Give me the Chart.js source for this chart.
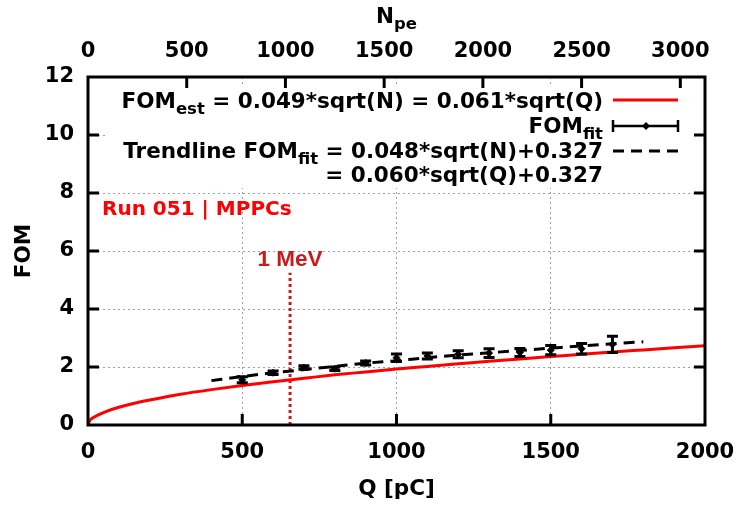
<!DOCTYPE html>
<html>
<head>
<meta charset="utf-8">
<script src="https://cdn.jsdelivr.net/npm/chart.js@4.4.0/dist/chart.umd.min.js"></script>
<style>
  html, body { margin: 0; padding: 0; background: #fff; }
  canvas { display: block; }
</style>
</head>
<body>
<canvas id="fom" width="747" height="508"></canvas>
<script>
const Q_TICKS = [0, 500, 1000, 1500, 2000];
const NPE_TICKS = [0, 500, 1000, 1500, 2000, 2500, 3000];
const FOM_TICKS = [0, 2, 4, 6, 8, 10, 12];
const Q_RANGE = [0, 2000];
const NPE_RANGE = [0, 3125];
const FOM_RANGE = [0, 12];

// red curve, FOM_est
const EST_Q   = [0, 5, 15, 30, 60, 100, 150, 200, 300, 400, 500, 600, 700, 800, 900, 1000, 1100, 1200, 1300, 1400, 1500, 1600, 1700, 1800, 1900, 2000];
const EST_FOM = [0, 0.14, 0.24, 0.33, 0.47, 0.61, 0.75, 0.86, 1.06, 1.22, 1.36, 1.49, 1.61, 1.73, 1.83, 1.93, 2.02, 2.11, 2.20, 2.28, 2.36, 2.44, 2.52, 2.59, 2.66, 2.73];

// dashed trendline
const TREND_Q   = [400, 500, 600, 700, 800, 900, 1000, 1100, 1200, 1300, 1400, 1500, 1600, 1700, 1800];
const TREND_FOM = [1.53, 1.67, 1.80, 1.91, 2.02, 2.13, 2.22, 2.32, 2.41, 2.49, 2.57, 2.65, 2.73, 2.80, 2.87];

// FOM_fit points with error bars
const FIT_Q   = [500, 600, 700, 800, 900, 1000, 1100, 1200, 1300, 1400, 1500, 1600, 1700];
const FIT_FOM = [1.56, 1.80, 1.98, 1.94, 2.14, 2.32, 2.38, 2.44, 2.48, 2.50, 2.58, 2.63, 2.78];
const FIT_ERR = [0.10, 0.06, 0.06, 0.06, 0.07, 0.13, 0.10, 0.12, 0.15, 0.14, 0.16, 0.18, 0.28];

// 1 MeV marker
const MEV_Q = 655;
const MEV_TOP = 5.25;

const FONT = '"DejaVu Sans", sans-serif';
const MAIN = 'bold 21.5px ' + FONT;
const SUB = 'bold 16.5px ' + FONT;

const pts = (xs, ys) => xs.map((x, i) => ({ x, y: ys[i] }));

// draws text with subscript parts, right aligned at rx
function rich(ctx, parts, rx, base) {
  let w = 0;
  parts.forEach(([t, sub]) => { ctx.font = sub ? SUB : MAIN; w += ctx.measureText(t).width; });
  let x = rx - w;
  ctx.textAlign = 'left';
  ctx.textBaseline = 'alphabetic';
  parts.forEach(([t, sub]) => {
    ctx.font = sub ? SUB : MAIN;
    ctx.fillText(t, x, sub ? base + 6 : base);
    x += ctx.measureText(t).width;
  });
}

const errorBars = {
  id: 'errorBars',
  afterDatasetsDraw(chart) {
    const { ctx, scales: { x, y } } = chart;
    ctx.save();
    ctx.strokeStyle = '#000';
    ctx.lineWidth = 3;
    FIT_Q.forEach((q, i) => {
      const px = x.getPixelForValue(q);
      const lo = y.getPixelForValue(FIT_FOM[i] - FIT_ERR[i]);
      const hi = y.getPixelForValue(FIT_FOM[i] + FIT_ERR[i]);
      ctx.beginPath();
      ctx.moveTo(px, lo); ctx.lineTo(px, hi);
      ctx.moveTo(px - 5.5, lo); ctx.lineTo(px + 5.5, lo);
      ctx.moveTo(px - 5.5, hi); ctx.lineTo(px + 5.5, hi);
      ctx.stroke();
    });
    ctx.restore();
  }
};

const decor = {
  id: 'decor',
  afterDraw(chart) {
    const { ctx, chartArea: a, scales: { x, x2, y } } = chart;
    ctx.save();

    // opaque key box
    ctx.fillStyle = '#fff';
    ctx.fillRect(107, 84, 593, 104);

    // frame
    ctx.strokeStyle = '#000';
    ctx.lineWidth = 3;
    ctx.strokeRect(a.left, a.top, a.right - a.left, a.bottom - a.top);

    // inward ticks
    ctx.beginPath();
    Q_TICKS.slice(1, -1).forEach(v => {
      const px = x.getPixelForValue(v);
      ctx.moveTo(px, a.bottom); ctx.lineTo(px, a.bottom - 11);
    });
    NPE_TICKS.slice(1).forEach(v => {
      const px = x2.getPixelForValue(v);
      ctx.moveTo(px, a.top); ctx.lineTo(px, a.top + 11);
    });
    FOM_TICKS.slice(1, -1).forEach(v => {
      const py = y.getPixelForValue(v);
      ctx.moveTo(a.left, py); ctx.lineTo(a.left + 11, py);
      ctx.moveTo(a.right, py); ctx.lineTo(a.right - 11, py);
    });
    ctx.stroke();

    // key
    ctx.fillStyle = '#000';
    rich(ctx, [['FOM'], ['est', 1], [' = 0.049*sqrt(N) = 0.061*sqrt(Q)']], 603, 108);
    rich(ctx, [['FOM'], ['fit', 1]], 603, 133);
    rich(ctx, [['Trendline FOM'], ['fit', 1], [' = 0.048*sqrt(N)+0.327']], 603, 158);
    rich(ctx, [['= 0.060*sqrt(Q)+0.327']], 603, 182);

    ctx.lineWidth = 3;
    ctx.strokeStyle = '#ff0000';
    ctx.beginPath(); ctx.moveTo(613, 100); ctx.lineTo(678, 100); ctx.stroke();

    ctx.strokeStyle = '#000';
    ctx.lineWidth = 2.5;
    ctx.beginPath();
    ctx.moveTo(613, 126); ctx.lineTo(678, 126);
    ctx.moveTo(613, 120); ctx.lineTo(613, 132);
    ctx.moveTo(678, 120); ctx.lineTo(678, 132);
    ctx.stroke();
    ctx.beginPath();
    ctx.moveTo(646, 122); ctx.lineTo(650, 126); ctx.lineTo(646, 130); ctx.lineTo(642, 126);
    ctx.closePath(); ctx.fill();

    ctx.lineWidth = 3;
    ctx.setLineDash([11, 7]);
    ctx.beginPath(); ctx.moveTo(613, 151); ctx.lineTo(678, 151); ctx.stroke();
    ctx.setLineDash([]);

    // annotations
    ctx.fillStyle = '#ff0000';
    ctx.font = 'bold 20px ' + FONT;
    ctx.textAlign = 'left';
    ctx.fillText('Run 051 | MPPCs', 102, 215);

    ctx.fillStyle = '#c81c1c';
    ctx.font = 'bold 22.5px "Liberation Sans", sans-serif';
    ctx.textAlign = 'center';
    ctx.fillText('1 MeV', x.getPixelForValue(MEV_Q), y.getPixelForValue(MEV_TOP) - 7);

    // axis titles
    ctx.fillStyle = '#000';
    ctx.font = MAIN;
    ctx.textAlign = 'center';
    ctx.fillText('Q [pC]', (a.left + a.right) / 2, 495);

    ctx.font = MAIN;
    const nw = ctx.measureText('N').width;
    ctx.font = SUB;
    const pw = ctx.measureText('pe').width;
    const nx = (a.left + a.right) / 2 - (nw + pw) / 2;
    ctx.textAlign = 'left';
    ctx.font = MAIN; ctx.fillText('N', nx, 23);
    ctx.font = SUB; ctx.fillText('pe', nx + nw, 29);

    ctx.translate(24, (a.top + a.bottom) / 2);
    ctx.rotate(-Math.PI / 2);
    ctx.font = MAIN;
    ctx.textAlign = 'center';
    ctx.textBaseline = 'middle';
    ctx.fillText('FOM', 0, 0);
    ctx.restore();
  }
};

const tickFont = { family: FONT, size: 21, weight: 'bold' };
const plain = v => String(v);
const gridColor = ctx => (ctx.index === 0 || ctx.index === ctx.scale.ticks.length - 1) ? 'rgba(0,0,0,0)' : '#a0a0a0';
const noSidePad = s => { s.paddingLeft = 0; s.paddingRight = 0; };

new Chart(document.getElementById('fom'), {
  type: 'line',
  data: {
    datasets: [
      {
        data: pts(EST_Q, EST_FOM),
        borderColor: '#ff0000', borderWidth: 3, pointRadius: 0,
        cubicInterpolationMode: 'monotone',
      },
      {
        data: pts(TREND_Q, TREND_FOM),
        borderColor: '#000', borderWidth: 3, borderDash: [11, 7], pointRadius: 0,
        cubicInterpolationMode: 'monotone',
      },
      {
        data: pts(FIT_Q, FIT_FOM),
        showLine: false, pointStyle: 'rectRot', pointRadius: 3.5,
        backgroundColor: '#000', borderColor: '#000', borderWidth: 1,
      },
      {
        data: pts([MEV_Q, MEV_Q], [0, MEV_TOP]),
        borderColor: '#c81c1c', borderWidth: 3, borderDash: [3, 3], pointRadius: 0,
      },
    ],
  },
  options: {
    responsive: false,
    animation: false,
    events: [],
    layout: { padding: { right: 42, left: 0, top: 0, bottom: 0 } },
    plugins: { legend: { display: false }, tooltip: { enabled: false } },
    scales: {
      x: {
        type: 'linear', position: 'bottom', min: Q_RANGE[0], max: Q_RANGE[1],
        afterBuildTicks: s => { s.ticks = Q_TICKS.map(value => ({ value })); },
        afterFit: s => { s.height = 83; noSidePad(s); },
        grid: { color: gridColor, lineWidth: 1, drawTicks: false },
        border: { display: false, dash: [2, 3] },
        ticks: { font: tickFont, color: '#000', padding: 15, maxRotation: 0, callback: plain },
      },
      x2: {
        type: 'linear', position: 'top', min: NPE_RANGE[0], max: NPE_RANGE[1],
        afterBuildTicks: s => { s.ticks = NPE_TICKS.map(value => ({ value })); },
        afterFit: s => { s.height = 77; noSidePad(s); },
        grid: { display: false, drawTicks: false },
        border: { display: false },
        ticks: { font: tickFont, color: '#000', padding: 13, maxRotation: 0, callback: plain },
      },
      y: {
        type: 'linear', min: FOM_RANGE[0], max: FOM_RANGE[1],
        afterBuildTicks: s => { s.ticks = FOM_TICKS.map(value => ({ value })); },
        afterFit: s => { s.width = 88; },
        grid: { color: gridColor, lineWidth: 1, drawTicks: false },
        border: { display: false, dash: [2, 3] },
        ticks: { font: tickFont, color: '#000', padding: 14, callback: plain },
      },
    },
  },
  plugins: [errorBars, decor],
});
</script>
</body>
</html>
